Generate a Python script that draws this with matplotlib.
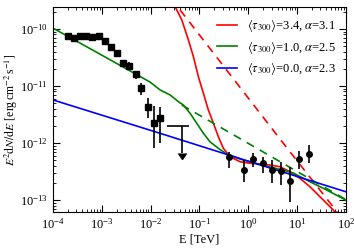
import numpy as np
import matplotlib
matplotlib.use("Agg")
import matplotlib.pyplot as plt
from matplotlib.ticker import NullFormatter

plt.rcParams["font.family"] = ["Liberation Serif", "DejaVu Serif"]
plt.rcParams["mathtext.fontset"] = "stix"
plt.rcParams["font.size"] = 9

# Fermi-like points (squares)
sq_E = [2.06e-4, 2.73e-4, 3.62e-4, 4.81e-4, 6.38e-4, 8.63e-4, 1.16e-3, 1.55e-3,
        2.05e-3, 2.76e-3, 3.66e-3, 5.03e-3, 6.44e-3, 8.85e-3, 1.17e-2, 1.56e-2]
sq_F = [7.63e-11, 7.03e-11, 7.45e-11, 7.45e-11, 7.24e-11, 7.45e-11, 6.08e-11, 4.83e-11,
        3.79e-11, 2.54e-11, 2.25e-11, 1.63e-11, 9.33e-12, 4.33e-12, 2.27e-12, 2.71e-12]
sq_hi = [7.63e-11, 7.03e-11, 7.45e-11, 7.45e-11, 7.24e-11, 7.45e-11, 6.08e-11, 4.83e-11,
         3.79e-11, 2.86e-11, 2.64e-11, 1.78e-11, 1.11e-11, 6.15e-12, 4.51e-12, 4.34e-12]
sq_lo = [7.63e-11, 7.03e-11, 7.45e-11, 7.45e-11, 7.24e-11, 7.45e-11, 6.08e-11, 4.83e-11,
         3.79e-11, 2.15e-11, 1.91e-11, 1.33e-11, 6.95e-12, 2.75e-12, 8.17e-13, 1.0e-12]

# upper limit
ul_E, ul_Elo, ul_Ehi = 4.33e-2, 2.14e-2, 6.21e-2
ul_F, ul_tip = 1.99e-12, 6.68e-13

# TeV points (circles)
c_E = [0.410, 0.820, 1.25, 1.98, 3.03, 4.70, 7.30, 11.1, 17.6]
c_F = [5.61e-13, 3.36e-13, 5.18e-13, 4.41e-13, 3.36e-13, 3.23e-13, 2.18e-13, 5.18e-13, 6.41e-13]
c_hi = [7.03e-13, 5.04e-13, 6.68e-13, 5.75e-13, 5.04e-13, 4.70e-13, 3.84e-13, 7.33e-13, 9.23e-13]
c_lo = [3.60e-13, 2.09e-13, 3.84e-13, 2.94e-13, 1.96e-13, 1.83e-13, 9.33e-14, 3.46e-13, 4.51e-13]

# model curves
red_E = [10**-1.500, 10**-1.363, 10**-1.227, 10**-1.125, 10**-1.023, 10**-0.920, 10**-0.818,
         10**-0.715, 10**-0.613, 10**-0.510, 10**-0.373, 10**-0.168, 10**0.037, 10**0.242,
         10**0.447, 10**0.652, 10**0.857, 10**1.061, 10**1.266, 10**1.471, 10**1.744, 10**1.799]
red_F = [2.46e-10, 1.44e-10, 6.41e-11, 3.27e-11, 1.46e-11, 7.45e-12, 3.79e-12,
         2.22e-12, 1.29e-12, 8.07e-13, 5.75e-13, 4.70e-13, 4.41e-13, 4.32e-13,
         4.11e-13, 3.84e-13, 3.13e-13, 2.40e-13, 1.71e-13, 1.14e-13, 6.68e-14, 5.67e-14]
red_int_E = [10**-1.398, 10**0.719, 10**1.711, 10**2.0]
red_int_F = [2.15e-10, 9.88e-13, 8.17e-14, 3.88e-14]

green_E = [1e-4, 10**-3.037, 10**-2.012, 10**-1.807, 10**-1.602, 10**-1.432, 10**-1.330,
           10**-1.193, 10**-1.055, 10**-0.920, 10**-0.783, 10**-0.613, 10**-0.440,
           10**-0.168, 10**0.242, 10**0.652, 10**0.924, 10**1.266, 10**1.609, 1e2]
green_F = [1.03e-10, 3.60e-11, 1.17e-11, 8.51e-12, 6.95e-12, 5.30e-12, 4.64e-12,
           3.32e-12, 2.22e-12, 1.48e-12, 1.05e-12, 8.07e-13, 6.41e-13,
           5.24e-13, 4.20e-13, 3.45e-13, 2.98e-13, 2.09e-13, 1.50e-13, 1.0e-13]
green_int_E = [10**-1.363, 10**0.412, 10**1.984]
green_int_F = [4.64e-12, 6.18e-13, 1.04e-13]

blue_E = [1e-4, 10**-1.807, 10**0.037, 1e2]
blue_F = [5.68e-12, 1.48e-12, 4.70e-13, 1.40e-13]

xticks = [1e-4, 1e-3, 1e-2, 1e-1, 1e0, 1e1, 1e2]
yticks = [1e-13, 1e-12, 1e-11, 1e-10]

fig, ax = plt.subplots(figsize=(3.54, 2.48), dpi=100)
fig.subplots_adjust(left=0.150, right=0.977, bottom=0.146, top=0.971)

lw = 1.2
ax.plot(red_E, red_F, color="red", lw=lw,
        label=r"$\langle\tau_{300}\rangle$=3.4, $\alpha$=3.1")
ax.plot(red_int_E, red_int_F, color="red", lw=lw, ls=(0, (5, 4)))
ax.plot(green_E, green_F, color="green", lw=lw,
        label=r"$\langle\tau_{300}\rangle$=1.0, $\alpha$=2.5")
ax.plot(green_int_E, green_int_F, color="green", lw=lw, ls=(0, (5, 4)))
ax.plot(blue_E, blue_F, color="blue", lw=lw,
        label=r"$\langle\tau_{300}\rangle$=0.0, $\alpha$=2.3")

sq_F = np.array(sq_F)
ax.errorbar(sq_E, sq_F, yerr=[sq_F - np.array(sq_lo), np.array(sq_hi) - sq_F],
            fmt="s", color="black", ms=4, elinewidth=1.2, capsize=0)
c_F = np.array(c_F)
ax.errorbar(c_E, c_F, yerr=[c_F - np.array(c_lo), np.array(c_hi) - c_F],
            fmt="o", color="black", ms=4, elinewidth=1.2, capsize=0)

ax.errorbar([ul_E], [ul_F], xerr=[[ul_E - ul_Elo], [ul_Ehi - ul_E]],
            yerr=[[ul_F - ul_tip], [0]], uplims=True, fmt="none",
            color="black", elinewidth=1.2, capsize=0)

ax.set_xscale("log")
ax.set_yscale("log")
ax.set_xticks(xticks)
ax.set_yticks(yticks)
ax.set_xlim(1e-4, 1e2)
ax.set_ylim(6.24e-14, 2.40e-10)
ax.xaxis.set_minor_formatter(NullFormatter())
ax.yaxis.set_minor_formatter(NullFormatter())
ax.tick_params(which="both", direction="in", top=True, right=True, pad=4)
ax.tick_params(which="major", length=5)
ax.tick_params(which="minor", length=2.5)

ax.set_xlabel("E [TeV]", labelpad=1)
ax.set_ylabel(r"$E^2\mathrm{d}N/\mathrm{d}E$ [erg$\,$cm$^{-2}\,$s$^{-1}$]",
              fontsize=8.5)
ax.yaxis.set_label_coords(-0.112, 0.5)
ax.legend(loc="upper right", frameon=False, handlelength=1.6, labelspacing=0.35,
          borderaxespad=0.4, handletextpad=0.8)

fig.savefig("out.png", dpi=100)
